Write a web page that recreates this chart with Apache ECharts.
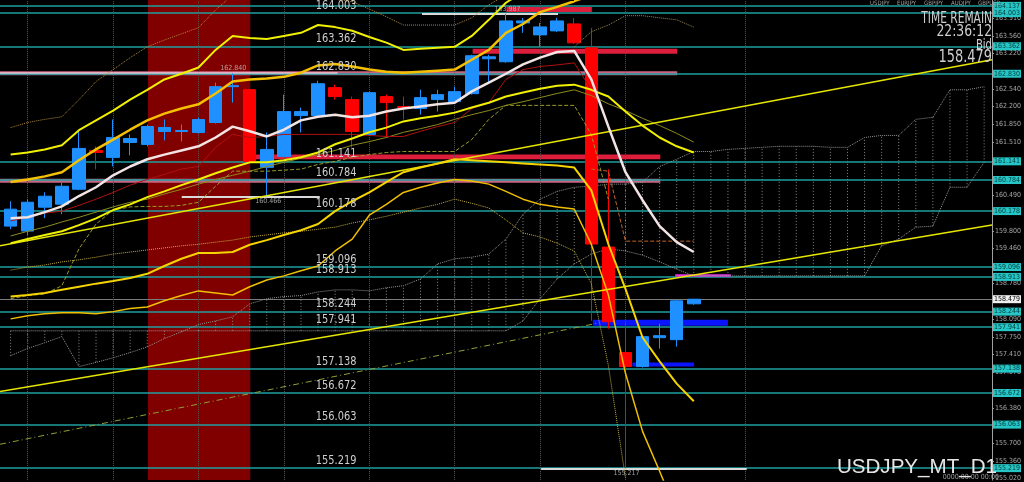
<!DOCTYPE html>
<html><head><meta charset="utf-8">
<script src="https://cdn.jsdelivr.net/npm/echarts@6/dist/echarts.min.js"></script>
<style>html,body{margin:0;padding:0;background:#000;}#c{width:1024px;height:482px;}</style>
</head><body><div id="c"></div>
<script>
// ---------- DATA ----------
// daily candles: [index, open, close, low, high]
const candles = [
 [0,159.890,160.217,159.832,160.370],[1,159.794,160.351,159.717,160.409],[2,160.255,160.467,160.044,160.543],
 [3,160.313,160.659,160.121,160.736],[4,160.601,161.389,160.582,161.716],[5,161.351,161.312,160.986,161.428],
 [6,161.216,161.601,161.043,161.947],[7,161.504,161.581,161.255,161.658],[8,161.466,161.812,161.428,161.850],
 [9,161.716,161.793,161.543,161.947],[10,161.716,161.735,161.524,161.850],[11,161.697,161.947,161.677,161.985],
 [12,161.889,162.581,161.870,162.658],[13,162.581,162.600,162.273,162.840],[14,162.523,161.139,161.120,162.542],
 [15,161.024,161.370,160.466,161.697],[16,161.235,162.100,161.216,162.427],[17,162.023,162.100,161.697,162.177],
 [18,162.023,162.638,162.004,162.696],[19,162.562,162.389,162.331,162.619],[20,162.331,161.716,161.408,162.389],
 [21,161.658,162.465,161.639,162.485],[22,162.389,162.273,161.601,162.427],[23,162.196,162.177,161.947,162.389],
 [24,162.158,162.369,162.043,162.523],[25,162.331,162.427,162.100,162.523],[26,162.292,162.485,162.273,162.581],
 [27,162.446,163.177,162.427,163.196],[28,163.119,163.157,162.658,163.196],[29,163.061,163.849,163.042,163.987],
 [30,163.811,163.849,163.619,163.907],[31,163.580,163.734,163.350,163.811],[32,163.657,163.849,163.638,163.907],
 [33,163.792,163.426,163.407,163.907],[34,163.330,159.544,158.064,163.715],[35,159.486,158.045,157.910,160.986],
 [36,157.449,157.180,155.217,158.006],[37,157.180,157.757,157.161,157.776],[38,157.737,157.776,157.526,158.006],
 [39,157.699,158.448,157.564,158.468],[40,158.391,158.479,158.372,158.487]
];
// indicator lines, one value per candle index (start index 0 unless noted)
const maWhite = [160.04,160.06,160.16,160.27,160.47,160.64,160.87,161.04,161.18,161.27,161.35,161.43,161.60,161.81,161.72,161.62,161.75,161.93,162.00,162.04,161.99,162.02,162.10,162.16,162.20,162.24,162.27,162.49,162.66,162.83,163.01,163.14,163.25,163.27,162.72,161.81,160.93,160.39,159.89,159.58,159.39];
const bandA = [161.27,161.31,161.37,161.45,161.74,161.93,162.12,162.33,162.52,162.72,162.83,162.95,163.29,163.56,163.52,163.50,163.56,163.62,163.77,163.73,163.66,163.54,163.43,163.29,163.31,163.33,163.35,163.56,163.87,164.20,164.41,164.54];
const bandB = [160.74,160.79,160.85,160.93,161.16,161.37,161.56,161.75,161.93,162.06,162.16,162.24,162.45,162.68,162.72,162.74,162.77,162.85,162.99,163.02,162.97,162.91,162.87,162.85,162.87,162.89,162.91,163.10,163.29,163.62,163.79,164.02,164.12,164.23,164.35];
const bandC = [159.56,159.64,159.72,159.79,159.91,160.04,160.20,160.31,160.45,160.56,160.68,160.79,160.91,161.02,161.12,161.12,161.16,161.22,161.31,161.47,161.58,161.70,161.79,161.91,161.97,162.02,162.08,162.18,162.27,162.39,162.47,162.54,162.60,162.62,162.52,162.39,162.10,161.83,161.60,161.43,161.31];
const bandD1 = [158.53,158.56,158.60,158.66,158.72,158.78,158.83,158.89,158.97,159.12,159.26,159.37,159.37,159.39,159.53,159.62,159.72,159.81,159.93,160.18,160.37,160.54,160.74,160.93,161.02,161.10,161.18,161.16,161.14,161.12,161.10,161.08,161.06,161.02,160.58,159.54,158.68,157.74,157.28,156.85,156.51];
const bandD2 = [158.10,158.16,158.20,158.22,158.22,158.20,158.24,158.30,158.33,158.45,158.55,158.64,158.60,158.56,158.72,158.85,158.93,159.03,159.12,159.41,159.64,160.10,160.31,160.54,160.64,160.72,160.79,160.76,160.70,160.56,160.41,160.31,160.26,160.22,159.54,158.56,157.05,155.93,155.16,154.36];
const dotUpper = [161.79,161.89,161.95,162.00,162.33,162.68,162.91,163.14,163.35,163.48,163.60,163.72,164.06,164.35,164.48,164.52,164.48,164.45,164.35,164.27,164.22,164.08,163.93,163.77,163.77,163.77,163.77,163.91,164.16,164.35];
const dotRightStart = 33;
const dotRight = [163.35,163.64,163.77,163.95,163.95,163.91,163.87,163.73];
const dotLower = [159.04,159.10,159.14,159.20,159.24,159.29,159.35,159.39,159.43,159.47,159.51,159.54,159.58,159.62,159.68,159.72,159.76,159.79,159.83,159.87,159.95,160.01,160.08,160.16,160.24,160.31,160.41,160.33,160.24,160.01,159.76,159.68,159.56,159.41,158.78,157.20,155.03];
const maRed = [159.99,160.06,160.14,160.18,160.29,160.41,160.54,160.68,160.79,160.89,160.99,161.04,161.41,161.66,161.60,161.62,161.66,161.66,161.66,161.66,161.66,161.64,161.62,161.62,161.72,161.81,161.89,162.16,162.27,162.72,162.91,162.97,163.00,163.04,162.52];
const maOlive = [159.70,159.79,159.87,159.97,160.06,160.16,160.26,160.35,160.41,160.51,160.60,160.70,160.79,160.87,160.95,161.04,161.12,161.20,161.27,161.35,161.45,161.52,161.60,161.70,161.77,161.85,161.95,162.04,162.12,162.22,162.29,162.37,162.45,162.52,162.41,162.25,162.12,161.97,161.83,161.68,161.51];
const kijun = [158.49,158.55,158.58,158.74,159.45,159.93,160.20,160.26,160.27,160.27,160.29,160.35,160.66,160.95,160.95,160.95,160.97,160.99,161.08,161.14,161.22,161.27,161.31,161.33,161.33,161.33,161.33,161.56,161.95,162.22,162.22,162.22,162.22,162.22,161.66,160.41];
const tenkanStart = 34;
const tenkan = [160.99,160.95,159.60,159.60,159.60,159.60,159.60];
// ichimoku cloud spans, index 0..57 (extends into the future)
const spanA = [157.87,157.87,157.87,157.87,157.87,157.87,157.87,157.87,157.87,157.87,157.87,157.87,157.87,157.87,157.87,157.87,157.87,157.87,157.87,157.87,157.87,157.87,157.87,157.87,157.87,157.87,157.87,157.87,157.87,157.87,158.06,158.49,158.87,159.16,159.35,159.45,159.41,159.33,159.20,159.06,158.93,158.93,158.93,158.93,158.93,158.93,158.93,158.93,158.93,158.93,158.93,159.51,159.64,159.87,159.89,160.64,160.64,161.12];
const spanB = [157.39,157.53,157.64,157.76,157.18,157.26,157.35,157.45,157.56,157.72,157.85,157.99,158.06,158.14,158.39,158.49,158.53,158.55,158.62,158.66,158.66,158.64,158.70,158.74,158.87,159.16,159.26,159.29,159.35,159.64,160.12,160.41,160.56,160.64,160.66,160.70,160.70,160.74,161.04,161.18,161.33,161.33,161.37,161.39,161.41,161.43,161.43,161.43,161.41,161.41,161.60,161.64,161.64,161.95,161.99,162.52,162.52,162.58];
// straight trend lines: [[index, price], [index, price]]
const trend1 = [[-0.62,159.51],[57.46,163.10]];
const trend2 = [[-0.62,156.70],[57.46,159.91]];
const trendDashDot = [[-0.62,155.68],[34.26,158.01]];
// horizontal price levels
const levels = [164.137,164.003,163.362,162.830,161.141,160.784,160.178,159.096,158.913,158.244,157.941,157.138,156.672,156.063,155.219];
const leftLabels = [164.003,163.362,162.830,161.141,160.784,160.178,159.096,158.913,158.244,157.941,157.138,156.672,156.063,155.219];
const axisTicks = [163.910,163.560,163.220,162.540,162.200,161.850,161.510,160.490,159.800,159.460,158.780,158.090,157.750,157.410,157.070,156.380,155.700,155.360,155.020];
const bid = 158.479;
const gridDays = [1,6,11,16,21,26,31,36,43];
const pairs = ['USDJPY','EURJPY','GBPJPY','AUDJPY','GBPUSD'];
const symbolText = 'USDJPY_MT_D1';
const timeRemain = '22:36:12';

// ---------- CHART ----------
const X0 = -0.622, X1 = 57.459, Y0 = 154.989, Y1 = 164.253;
const NF = "'Liberation Sans Narrow','DejaVu Sans Condensed','Liberation Sans',Arial,sans-serif";
const chart = echarts.init(document.getElementById('c'), null, {renderer:'canvas', width:1024, height:482});
function seq(arr, start){ return arr.map((v,k)=>[start+k, v]); }
function lineS(data, color, width, type, z){
  return {type:'line', data, showSymbol:false, symbol:'none', silent:true, animation:false, z:z||4,
    lineStyle:{color, width, type:type||'solid'}};
}
const teal = '#1f9f9f';
const cyanLabel = {show:true, position:'end', distance:1, fontSize:7, fontFamily:NF, color:'#043a3a',
  backgroundColor:'#26c6c6', padding:[1,1,0,1]};
const mlData = [];
levels.forEach(v => mlData.push({yAxis:v, lineStyle:{color:teal, width:1.5, type:'solid'},
  label:Object.assign({}, cyanLabel, {formatter:v.toFixed(3)})}));
mlData.push({yAxis:bid, lineStyle:{color:'#7c7c7c', width:1, type:'solid'},
  label:Object.assign({}, cyanLabel, {formatter:bid.toFixed(3), backgroundColor:'#f0f0f0', color:'#000'})});
gridDays.forEach(d => mlData.push({xAxis:d, lineStyle:{color:'#555555', width:1, type:'dotted'}, label:{show:false}}));
function seg(x1, x2, y, color, w){ return [{coord:[x1,y], lineStyle:{color, width:w, type:'solid'}, label:{show:false}}, {coord:[x2,y]}]; }
mlData.push(seg(-0.62, 19.15, 162.840, 'rgba(255,228,236,0.55)', 2));
mlData.push(seg(24.09, 32.05, 163.987, '#d9d9d9', 2));
mlData.push(seg(10.02, 18.10, 160.466, '#d9d9d9', 2));
mlData.push(seg(31.06, 43.10, 155.217, '#d9d9d9', 2));
mlData.push(seg(38.91, 42.17, 158.939, '#e632e6', 2.5));

function band(x1, x2, yTop, yBot, color){ return [{xAxis:x1, yAxis:yTop, itemStyle:{color}}, {xAxis:x2, yAxis:yBot}]; }
const maData = [
  [{xAxis:8.04, itemStyle:{color:'#800000'}}, {xAxis:14.03}],
  band(-0.62, 39.03, 162.879, 162.802, '#c86482'),
  band(27.05, 39.03, 163.311, 163.215, '#dc1e3c'),
  band(13.92, 38.04, 161.274, 161.178, '#dc1e3c'),
  band(-0.62, 38.04, 160.803, 160.726, '#c86482'),
  band(29.03, 34.03, 164.118, 164.022, '#dc1e3c'),
  band(34.09, 42.00, 158.083, 157.968, '#0a14ff'),
  band(36.41, 40.02, 157.257, 157.180, '#0a14ff')
];

const textLabel = (x, y, txt, pos) => ({value:[x,y], label:{formatter:txt, position:pos, distance:1}});
function gText(x, y, text, size, sx, fill, family, z){
  return {type:'text', x, y, z:z||10, silent:true, scaleX:sx,
    style:{text, fill:fill||'#cfcfcf', font:size+'px '+(family||NF), align:'right', verticalAlign:'middle',
      textAlign:'right', textVerticalAlign:'middle'}};
}

const option = {
  backgroundColor:'#000',
  animation:false,
  grid:{left:0, right:25, top:0, bottom:0, containLabel:false},
  xAxis:{type:'value', min:X0, max:X1, show:false, splitLine:{show:false}},
  yAxis:{type:'value', position:'right', min:Y0, max:Y1, scale:true,
    axisLine:{show:true, onZero:false, lineStyle:{color:'#a0a0a0', width:1}},
    axisTick:{show:true, length:2, customValues:axisTicks, lineStyle:{color:'#a0a0a0'}},
    axisLabel:{show:true, customValues:axisTicks, margin:3, fontSize:7, fontFamily:NF, color:'#a8a8a8',
      formatter:v=>v.toFixed(3)},
    splitLine:{show:false}},
  graphic:[
    ...pairs.map((p,k)=>({type:'text', x:870+27*k, y:3, z:10, silent:true,
      style:{text:p, fill:'#a0a0a0', font:'6px '+NF, align:'left', verticalAlign:'middle', textAlign:'left', textVerticalAlign:'middle'}})),
    gText(992, 19, 'TIME REMAIN', 16, 0.74),
    gText(992, 32, timeRemain, 16, 0.86),
    gText(992, 45, 'Bid', 14, 0.8),
    gText(992, 57, bid.toFixed(3), 18, 0.8),
    gText(999, 477, '0000.00.00 00:00', 7, 1, '#9a9a9a'),
    gText(997, 467, symbolText, 21, 0.98, '#e6e6e6', "'Liberation Sans',Arial,sans-serif", 11)
  ],
  series:[
    {type:'custom', z:1, silent:true, animation:false,
      data: spanA.map((a,k)=>[k, a, spanB[k]]),
      encode:{x:0, y:[1,2]},
      renderItem:(params, api)=>{
        const p1 = api.coord([api.value(0), api.value(1)]);
        const p2 = api.coord([api.value(0), api.value(2)]);
        return {type:'line', shape:{x1:p1[0], y1:p1[1], x2:p2[0], y2:p2[1]},
          style:{stroke:'#8a8a8a', lineWidth:1, lineDash:[1,2]}};
      }},
    {type:'candlestick', z:3, silent:true, animation:false, barWidth:13,
      data:candles,
      itemStyle:{color:'#1e90ff', color0:'#ff0000', borderColor:'#1e90ff', borderColor0:'#ff0000', borderWidth:1},
      markArea:{silent:true, z:1, animation:false, label:{show:false}, data:maData},
      markLine:{silent:true, z:2, animation:false, symbol:'none', label:{show:false}, data:mlData}},
    lineS(seq(spanA,0), '#949494', 1, 'dotted', 2),
    lineS(seq(spanB,0), '#949494', 1, 'dotted', 2),
    lineS(seq(dotUpper,0), '#b08a3a', 1, 'dotted'),
    lineS(seq(dotRight,dotRightStart), '#9a8a50', 1, 'dotted'),
    lineS(seq(dotLower,0), '#c8b040', 1, 'dotted'),
    lineS(seq(maOlive,0), '#8c8c1e', 1),
    lineS(seq(maRed,0), '#b01010', 1),
    lineS(seq(kijun,0), '#9a9a2a', 1, 'dashed'),
    lineS(seq(tenkan,tenkanStart), '#c06428', 1, 'dashed'),
    lineS(trendDashDot, '#8ea036', 1, [6,3,1,3]),
    lineS(trend1, '#e6e600', 1.5),
    lineS(trend2, '#e6e600', 1.5),
    lineS(seq(bandD2,0), '#f0c000', 1.5),
    lineS(seq(bandD1,0), '#f5d400', 2),
    lineS(seq(bandC,0), '#f0f000', 2),
    lineS(seq(bandB,0), '#f5c000', 2.5),
    lineS(seq(bandA,0), '#f0f000', 2),
    lineS(seq(maWhite,0), '#f2e4e4', 2.5, 'solid', 5),
    {type:'custom', z:6, silent:true, animation:false,
      data:leftLabels.map(v=>[17.87, v]), encode:{x:0, y:1},
      renderItem:(params, api)=>{
        const p = api.coord([api.value(0), api.value(1)]);
        return {type:'text', x:p[0], y:p[1]-1, scaleX:0.84,
          style:{text:api.value(1).toFixed(3), fill:'#cfcfcf', font:'13px '+NF, align:'left', verticalAlign:'bottom',
            textAlign:'left', textVerticalAlign:'bottom'}};
      }},
    {type:'scatter', z:6, silent:true, animation:false, symbolSize:1, itemStyle:{color:'rgba(0,0,0,0)'},
      data:[textLabel(13.04,162.840,'162.840','top'), textLabel(15.08,160.466,'160.466','bottom'),
            textLabel(29.09,163.987,'163.987','top'), textLabel(36.06,155.217,'155.217','bottom')],
      label:{show:true, color:'#c4c4c4', fontSize:7, fontFamily:NF}}
  ]
};
chart.setOption(option);
</script></body></html>
